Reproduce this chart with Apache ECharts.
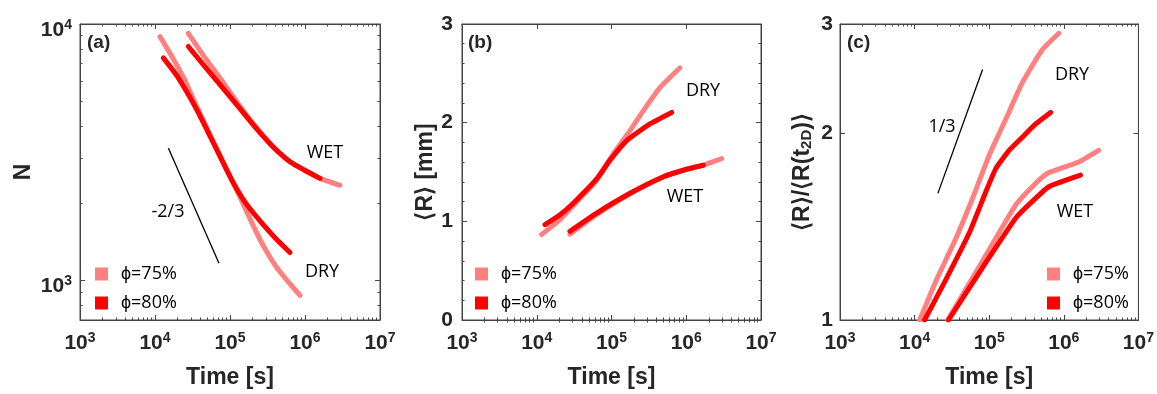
<!DOCTYPE html>
<html><head><meta charset="utf-8">
<script src="https://cdn.jsdelivr.net/npm/echarts@6/dist/echarts.min.js"></script>
<style>html,body{margin:0;padding:0;background:#fff}#c{width:1157px;height:394px}</style>
</head><body><div id="c"></div>
<script>
// ---------------- data ----------------
const legendNames = ['ϕ=75%', 'ϕ=80%'];
const xMajorTicks = [1e3, 1e4, 1e5, 1e6, 1e7];
const yMajorTicksA = [1e3, 1e4];
const yMajorTicksB = [0, 1, 2, 3];
const yMajorTicksC = [1, 2, 3];

// (a) number of bubbles N vs time
const aDry75T = [11660, 16850, 24360, 36300, 66470, 109650, 150400, 204500, 278000, 419500, 631000, 857700];
const aDry75N = [8930, 7458, 6133, 4740, 3263, 2412, 1983, 1631, 1365, 1122, 968, 873];
const aDry80T = [12900, 19470, 36300, 66470, 109650, 158500, 251200, 398100, 631000];
const aDry80N = [7373, 6300, 4616, 3233, 2412, 2018, 1705, 1466, 1283];
const aWet75T = [27800, 46400, 79400, 136000, 227000, 374000, 631000, 1000000, 1585000, 2930000];
const aWet75N = [9200, 7390, 5970, 4780, 3932, 3320, 2899, 2683, 2499, 2348];
const aWet80T = [27800, 79400, 136000, 227000, 374000, 631000, 1000000, 1585000];
const aWet80N = [8170, 5645, 4672, 3897, 3320, 2899, 2683, 2499];
const aSlopeT = [15060, 71300];
const aSlopeN = [3281, 1166];

// (b) mean radius <R> [mm] vs time
const bDry75T = [11600, 20500, 30800, 63400, 106000, 177000, 266000, 445000, 824000];
const bDry75R = [0.866, 1.016, 1.16, 1.417, 1.685, 1.919, 2.12, 2.355, 2.556];
const bDry80T = [12900, 20500, 30800, 63400, 95500, 160000, 327000, 638000];
const bDry80R = [0.966, 1.067, 1.184, 1.43, 1.62, 1.819, 1.987, 2.104];
const bWet75T = [27800, 63400, 177000, 493000, 914000, 1690000, 2980000];
const bWet75R = [0.87, 1.07, 1.28, 1.45, 1.52, 1.57, 1.635];
const bWet80T = [27800, 63400, 177000, 493000, 914000, 1690000];
const bWet80R = [0.9, 1.084, 1.284, 1.452, 1.518, 1.568];

// (c) normalised radius <R>/<R(t2D)> vs time
const cDry75T = [11700, 19400, 36000, 59900, 100000, 167000, 278000, 514000, 858000];
const cDry75R = [1.0, 1.157, 1.356, 1.571, 1.843, 2.108, 2.413, 2.727, 2.899];
const cDry80T = [13600, 26470, 54120, 90300, 122700, 184800, 278000, 419500, 664700];
const cDry80R = [1.0, 1.164, 1.382, 1.611, 1.754, 1.877, 1.971, 2.07, 2.161];
const cWet75T = [27800, 81500, 227000, 378000, 598000, 1580000, 2930000];
const cWet75R = [1.0, 1.245, 1.533, 1.64, 1.722, 1.798, 1.877];
const cWet80T = [28500, 81500, 227000, 378000, 630000, 1670000];
const cWet80R = [1.0, 1.215, 1.46, 1.553, 1.64, 1.712];
const cSlopeT = [20500, 81500];
const cSlopeR = [1.60, 2.533];

// ---------------- helpers ----------------
function logMinor(lo, hi) { // minor tick values 2..9 x 10^k inside [lo,hi]
  const out = [];
  for (let k = Math.floor(Math.log10(lo)); k < Math.ceil(Math.log10(hi)); k++) {
    for (let m = 2; m <= 9; m++) { const v = m * Math.pow(10, k); if (v >= lo && v <= hi) out.push(v); }
  }
  return out;
}
function linMinor(lo, hi, step) { const out = []; for (let v = lo; v <= hi + 1e-9; v += step) out.push(+v.toFixed(6)); return out; }
const zip = (a, b) => a.map((v, i) => [v, b[i]]);

const AX = '#444';
const TXT = '#262626';
const LF = '"Liberation Sans", Arial, sans-serif';
const AF = '"Open Sans", sans-serif';
const C75 = '#ff8080', C80 = '#ff0000';

const richLog = {
  b: { fontSize: 21, fontWeight: 'bold', fontFamily: LF, color: TXT, lineHeight: 24 },
  s: { fontSize: 14, fontWeight: 'bold', fontFamily: LF, color: TXT, verticalAlign: 'top', lineHeight: 14 }
};
const logFmt = v => '{b|10}{s|' + Math.round(Math.log10(v)) + '}';

function axesFor(dim, gi, cfg) {
  const base = { gridIndex: gi, type: cfg.type, min: cfg.min, max: cfg.max, splitLine: { show: false },
    axisLine: { show: true, onZero: false, lineStyle: { color: AX, width: 1 } } };
  const sides = dim === 'x' ? ['bottom', 'top'] : ['left', 'right'];
  const out = [];
  sides.forEach((pos, si) => {
    out.push(Object.assign({}, base, {
      position: pos,
      axisTick: { show: true, inside: true, length: 5, customValues: cfg.major, lineStyle: { color: AX } },
      axisLabel: si === 0 ? Object.assign({ show: true, customValues: cfg.major }, cfg.label) : { show: false, customValues: cfg.major },
      name: si === 0 ? cfg.name : '', nameLocation: 'middle', nameGap: cfg.nameGap,
      nameTextStyle: cfg.nameStyle
    }));
    out.push(Object.assign({}, base, {
      position: pos, axisLine: { show: false },
      axisTick: { show: cfg.minor.length > 0, inside: true, length: 2.5, customValues: cfg.minor, lineStyle: { color: AX } },
      axisLabel: { show: false, customValues: cfg.minor }
    }));
  });
  return out;
}

const nameStyle = { fontFamily: LF, fontWeight: 'bold', fontSize: 23, color: TXT };
const xCfg = {
  type: 'log', min: 1e3, max: 1e7, major: xMajorTicks, minor: logMinor(1e3, 1e7),
  label: { formatter: logFmt, rich: richLog, margin: 11 },
  name: 'Time [s]', nameGap: 46, nameStyle: nameStyle
};
const yCfgs = [
  { type: 'log', min: 700, max: 1e4, major: yMajorTicksA, minor: logMinor(700, 1e4).concat([700]),
    label: { formatter: logFmt, rich: richLog, margin: 8, padding: [12, 0, 0, 0] }, name: 'N', nameGap: 45, nameStyle: nameStyle },
  { type: 'value', min: 0, max: 3, major: yMajorTicksB, minor: linMinor(0.2, 2.8, 0.2).filter(v => Math.abs(v - Math.round(v)) > 1e-6),
    label: { fontSize: 21, fontWeight: 'bold', fontFamily: LF, color: TXT, margin: 9 },
    name: '⟨R⟩ [mm]', nameGap: 21, nameStyle: nameStyle },
  { type: 'log', min: 1, max: 3, major: yMajorTicksC, minor: [],
    label: { fontSize: 21, fontWeight: 'bold', fontFamily: LF, color: TXT, margin: 7 },
    name: '⟨R⟩/⟨R(t{sub|2D})⟩', nameGap: 26,
    nameStyle: Object.assign({}, nameStyle, { rich: { sub: { fontFamily: LF, fontWeight: 'bold', fontSize: 15, color: TXT, verticalAlign: 'bottom' } } }) }
];

const gridBoxes = [
  { left: 80, top: 24, width: 300, height: 299 },
  { left: 462, top: 24, width: 299, height: 299 },
  { left: 840, top: 24, width: 300, height: 299 }
];

let xAxes = [], yAxes = [];
for (let g = 0; g < 3; g++) { xAxes = xAxes.concat(axesFor('x', g, xCfg)); yAxes = yAxes.concat(axesFor('y', g, yCfgs[g])); }

function lineSeries(g, name, color, t, v, width) {
  return { type: 'line', name: name, xAxisIndex: 4 * g, yAxisIndex: 4 * g, data: zip(t, v),
    showSymbol: false, symbol: 'none', smooth: 0.15, silent: true, animation: false,
    lineStyle: { color: color, width: width || 5, cap: 'round', join: 'round' }, itemStyle: { color: color } };
}
const series = [
  lineSeries(0, legendNames[0], C75, aDry75T, aDry75N), lineSeries(0, legendNames[0], C75, aWet75T, aWet75N),
  lineSeries(0, legendNames[1], C80, aDry80T, aDry80N), lineSeries(0, legendNames[1], C80, aWet80T, aWet80N),
  lineSeries(0, 'slope', '#000', aSlopeT, aSlopeN, 1.3),
  lineSeries(1, legendNames[0], C75, bDry75T, bDry75R), lineSeries(1, legendNames[0], C75, bWet75T, bWet75R),
  lineSeries(1, legendNames[1], C80, bDry80T, bDry80R), lineSeries(1, legendNames[1], C80, bWet80T, bWet80R),
  lineSeries(2, legendNames[0], C75, cDry75T, cDry75R), lineSeries(2, legendNames[0], C75, cWet75T, cWet75R),
  lineSeries(2, legendNames[1], C80, cDry80T, cDry80R), lineSeries(2, legendNames[1], C80, cWet80T, cWet80R),
  lineSeries(2, 'slope', '#000', cSlopeT, cSlopeR, 1.3)
];
series.forEach(s => { if (s.name === 'slope') { s.smooth = false; s.lineStyle.cap = 'butt'; } });

const legends = [95, 475, 1047].map(l => ({
  left: l, top: 265, padding: 0, orient: 'vertical', itemWidth: 13, itemHeight: 13, itemGap: 11, icon: 'rect',
  selectedMode: false, data: legendNames,
  textStyle: { fontFamily: AF, fontSize: 18, color: '#000', padding: [0, 0, 0, 8] }
}));

function txt(x, y, s) {
  return { type: 'text', x: x, y: y, silent: true,
    style: { text: s, fontFamily: AF, fontSize: 18, fill: '#000', align: 'center', verticalAlign: 'middle' } };
}
function label(x, y, s) {
  return { type: 'text', x: x, y: y, silent: true,
    style: { text: s, fontFamily: LF, fontWeight: 'bold', fontSize: 19, fill: TXT, align: 'left', verticalAlign: 'middle' } };
}
const graphic = [
  label(87, 43, '(a)'), label(468, 43, '(b)'), label(847, 43, '(c)'),
  txt(325, 153, 'WET'), txt(322, 272, 'DRY'), txt(168, 212, '-2/3'),
  txt(703, 91, 'DRY'), txt(685, 197, 'WET'),
  txt(942, 127, '1/3'), txt(1072, 75, 'DRY'), txt(1075, 212, 'WET')
];

const chart = echarts.init(document.getElementById('c'), null, { renderer: 'canvas' });
chart.setOption({
  animation: false, backgroundColor: '#fff',
  grid: gridBoxes.map(b => Object.assign({ show: true, borderColor: AX, borderWidth: 1, backgroundColor: 'transparent' }, b)),
  xAxis: xAxes, yAxis: yAxes, legend: legends, series: series, graphic: graphic
});
</script></body></html>
